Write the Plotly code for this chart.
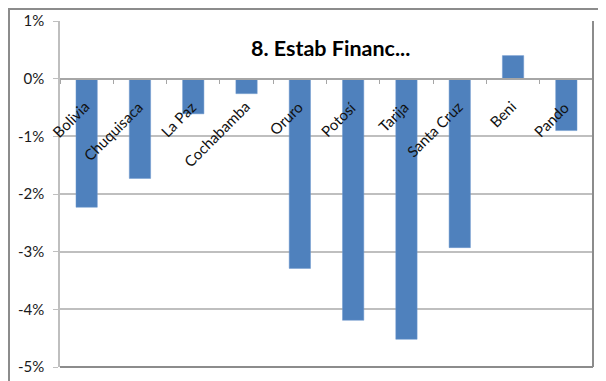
import plotly.graph_objects as go

categories = ["Bolivia", "Chuquisaca", "La Paz", "Cochabamba", "Oruro",
              "Potosí", "Tarija", "Santa Cruz", "Beni", "Pando"]
values = [-0.0223, -0.0173, -0.0061, -0.0026, -0.0329,
          -0.0419, -0.0452, -0.0293, 0.0040, -0.0090]
y_ticks = [0.01, 0.0, -0.01, -0.02, -0.03, -0.04, -0.05]
y_tick_labels = ["1%", "0%", "-1%", "-2%", "-3%", "-4%", "-5%"]
title_text = "8. Estab Financ..."

# page body has an 8px default margin, so the figure starts at (8, 8)
OFF = 8
W, H = 606 - OFF, 381 - OFF
ml, mr, mt, mb = 60 - OFF, 13, 21 - OFF, 14
pw, ph = W - ml - mr, H - mt - mb
ymin, ymax = -0.05, 0.01
FONT = "Lato, Carlito, Calibri, sans-serif"

fig = go.Figure(go.Bar(
    x=categories, y=values, width=0.4,
    marker=dict(color="#4F81BD", line=dict(color="#6F99CF", width=0.5)),
))

label_annotations = [
    dict(text=c, x=c, y=0, xref="x", yref="y", xanchor="right", yanchor="top",
         xshift=9, yshift=-16, textangle=-45, showarrow=False,
         font=dict(family=FONT, size=15, color="#111111"))
    for c in categories
]

fig.update_layout(
    width=W, height=H,
    margin=dict(l=ml, r=mr, t=mt, b=mb, autoexpand=False),
    paper_bgcolor="white", plot_bgcolor="white",
    showlegend=False,
    font=dict(family=FONT, size=15, color="#1a1a1a"),
    xaxis=dict(
        type="category", anchor="free", automargin=False,
        range=[-0.5, len(categories) - 0.5],
        position=(0 - ymin) / (ymax - ymin),
        showline=True, linecolor="#A6A6A6", linewidth=1.5,
        ticks="outside", ticklen=5, tickcolor="#A6A6A6", tickson="boundaries",
        showticklabels=False, showgrid=False, zeroline=False,
    ),
    yaxis=dict(
        range=[ymin, ymax], tickvals=y_ticks, ticktext=y_tick_labels,
        automargin=False,
        showgrid=True, gridcolor="#BFBFBF", gridwidth=1.5,
        showline=True, linecolor="#BFBFBF", linewidth=1.5,
        zeroline=False, ticks="outside", ticklen=5, tickcolor="#BFBFBF",
        ticklabelstandoff=6,
        tickfont=dict(size=15),
    ),
    annotations=label_annotations + [dict(
        text="<b>" + title_text + "</b>", xref="paper", yref="paper",
        x=(330 - 60) / pw, y=(367 - 48) / ph, xanchor="center", yanchor="middle",
        showarrow=False, font=dict(family=FONT, size=21.5, color="#000000"),
    )],
    shapes=[
        # outer chart border (left and top visible)
        dict(type="rect", xref="paper", yref="paper",
             x0=(1 - ml) / pw, x1=(W + 10 - ml) / pw,
             y0=-(mb + 10) / ph, y1=(H - mb - 1) / ph,
             line=dict(color="#8C8C8C", width=2)),
        # plot area right and bottom edges
        dict(type="line", xref="paper", yref="paper", x0=1, x1=1, y0=0, y1=1,
             line=dict(color="#8C8C8C", width=2)),
        dict(type="line", xref="paper", yref="paper", x0=0, x1=1, y0=0, y1=0,
             line=dict(color="#8C8C8C", width=2)),
    ],
)

fig.write_html("out.html")
